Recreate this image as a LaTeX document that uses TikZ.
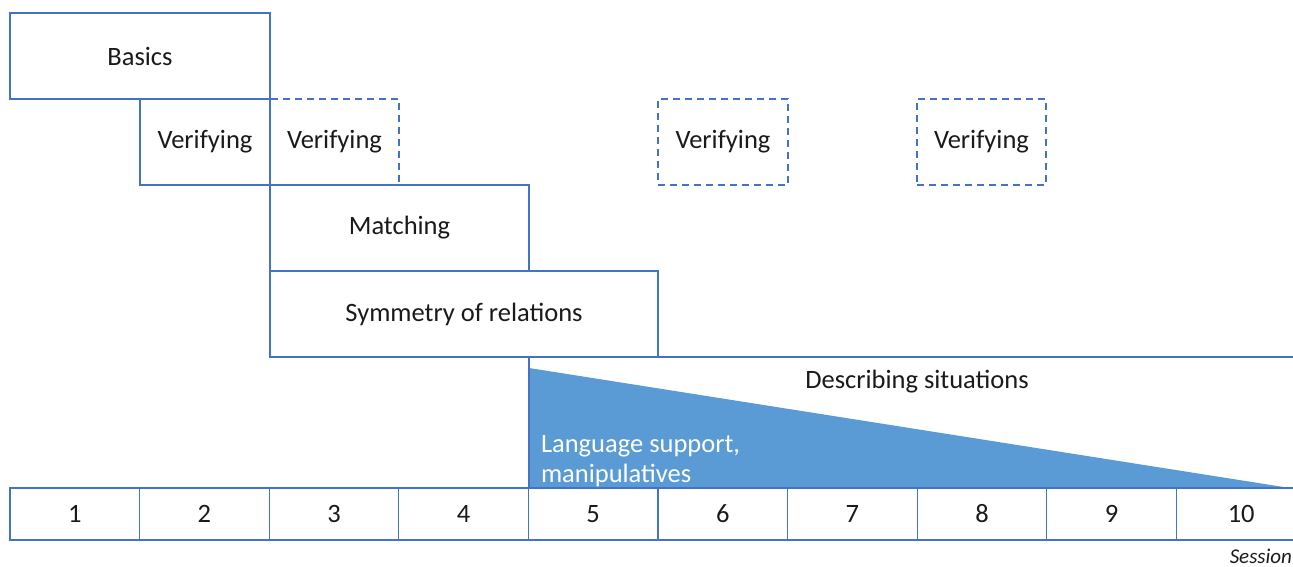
\documentclass[tikz,border=0pt]{standalone}
\usepackage{fontspec}
\setmainfont{Carlito}
\definecolor{lineblue}{HTML}{4472C4}
\definecolor{fillblue}{HTML}{5B9BD5}
\definecolor{txt}{HTML}{1A1A1A}
\begin{document}
\begin{tikzpicture}[x=1pt,y=-1pt,
  every node/.style={font=\fontsize{26.5}{30}\selectfont, text=txt, outer sep=0pt, inner sep=0pt},
  box/.style={draw=lineblue, line width=1.2pt, anchor=north west},
  dbox/.style={box, dashed, dash pattern=on 7pt off 5pt},
  cell/.style={box, minimum width=129.6pt, minimum height=52pt}]
\useasboundingbox (0,0) rectangle (1293,567);
% triangle
\coordinate (tritop) at (529,368);
\coordinate (tritip) at (1290,488);
\fill[fillblue] (tritop) -- (529,488) -- (tritip) -- cycle;
% describing situations region
\node[box, minimum width=777pt, minimum height=131pt] (desc) at (529,357) {};
\node (desctxt) at (917,382) {Describing situations};
\node[text=white, anchor=base west, align=left] (lang) at (541,482) {Language support,\\manipulatives};
% upper boxes
\node[box, minimum width=260pt, minimum height=86pt] (basics) at (10,13) {Basics};
\node[box, minimum width=130pt, minimum height=86pt] (ver1) at (140,99) {Verifying};
\node[dbox, minimum width=129pt, minimum height=86pt] (ver2) at (270,99) {Verifying};
\node[dbox, minimum width=130pt, minimum height=86pt] (ver3) at (658,99) {Verifying};
\node[dbox, minimum width=129pt, minimum height=86pt] (ver4) at (917,99) {Verifying};
\node[box, minimum width=259pt, minimum height=86pt, fill=white] (match) at (270,185) {Matching};
\node[box, minimum width=388pt, minimum height=86pt] (sym) at (270,271) {Symmetry of relations};
% sessions
\foreach \i in {1,...,10} {
  \node[cell] (s\i) at ({10+129.6*(\i-1)},488) {\i};
}
\node[anchor=base east, font=\fontsize{21}{26}\selectfont\itshape] (session) at (1292,563) {Session};
\end{tikzpicture}
\end{document}
